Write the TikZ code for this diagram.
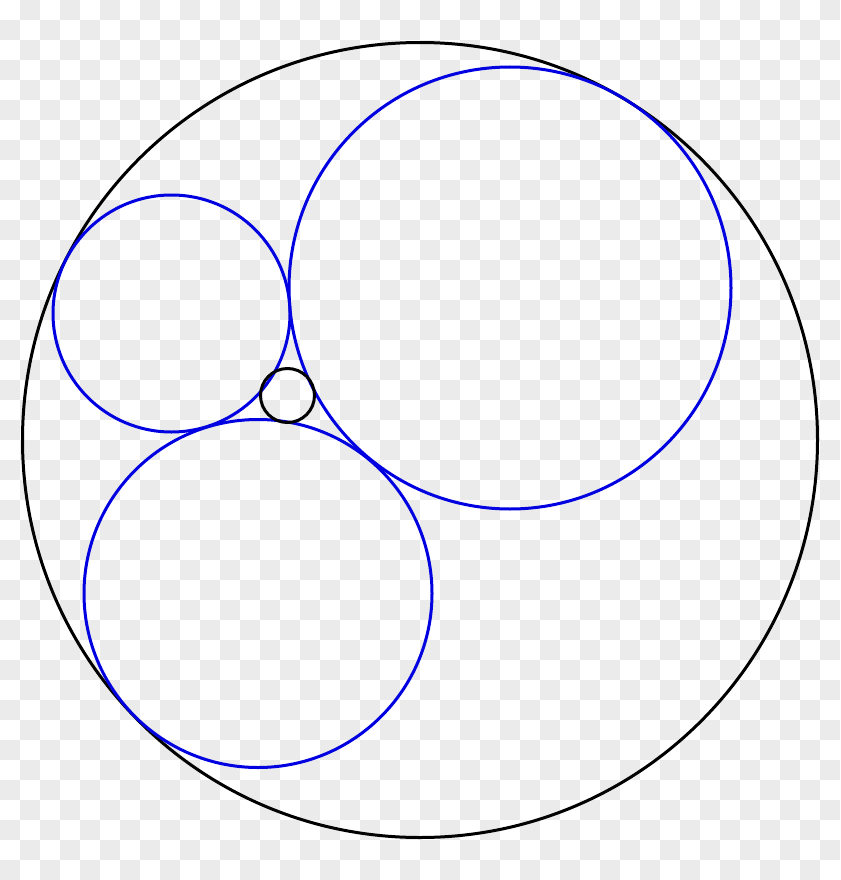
\documentclass[tikz,border=0pt]{standalone}
\begin{document}
\begin{tikzpicture}[x=1pt,y=-1pt,
  outer/.style={draw=black,line width=3pt},
  inner/.style={draw=blue!88!black,line width=3pt}]
\definecolor{checker}{HTML}{EBEBEB}
\useasboundingbox (0,0) rectangle (840,880);
\fill[white] (0,0) rectangle (840,880);
\foreach \i in {0,...,41}{
  \foreach \j in {0,...,43}{
    \pgfmathtruncatemacro{\p}{mod(\i+\j,2)}
    \ifnum\p=1 \fill[checker] (\i*20,\j*20) rectangle ++(20,20);\fi
  }
}
\draw[outer] (420,440) circle[radius=397.5];
\draw[inner] (510,288) circle[radius=221];
\draw[inner] (171.5,313.5) circle[radius=118.5];
\draw[inner] (258,593.5) circle[radius=174];
\draw[outer] (287.5,395.5) circle[radius=27];
\end{tikzpicture}
\end{document}
